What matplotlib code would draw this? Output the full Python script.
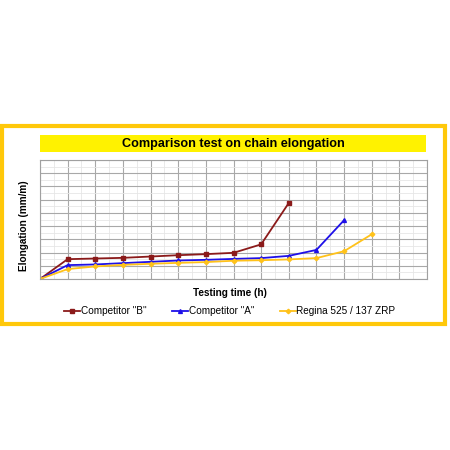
import matplotlib
matplotlib.use("Agg")
import matplotlib.pyplot as plt
from matplotlib.patches import Rectangle
from matplotlib.ticker import MultipleLocator

hours_b = [0, 1, 2, 3, 4, 5, 6, 7, 8, 9]
comp_b = [0, 1.5, 1.55, 1.6, 1.7, 1.8, 1.88, 1.98, 2.62, 5.75]
hours_a = [0, 1, 2, 3, 4, 5, 6, 7, 8, 9, 10, 11]
comp_a = [0, 1.05, 1.1, 1.2, 1.3, 1.4, 1.45, 1.52, 1.58, 1.75, 2.2, 4.45]
hours_r = [0, 1, 2, 3, 4, 5, 6, 7, 8, 9, 10, 11, 12]
regina = [0, 0.75, 0.95, 1.07, 1.15, 1.22, 1.28, 1.38, 1.42, 1.48, 1.58, 2.1, 3.38]

title = "Comparison test on chain elongation"
xlabel = "Testing time (h)"
ylabel = "Elongation (mm/m)"
labels = ['Competitor "B"', 'Competitor "A"', 'Regina 525 / 137 ZRP']

W = H = 450
fig = plt.figure(figsize=(4.5, 4.5), dpi=100)
fig.patch.set_facecolor("white")

def fx(px):
    return px / W

def fy(py):
    return 1 - py / H

# outer yellow frame
frame = Rectangle((fx(2), fy(324)), fx(445) - fx(2), fy(126) - fy(324),
                  transform=fig.transFigure, fill=False,
                  edgecolor="#FFC80A", linewidth=3.0, zorder=0)
fig.patches.append(frame)

# title box
tb = Rectangle((fx(40), fy(152)), fx(426) - fx(40), fy(135) - fy(152),
               transform=fig.transFigure, facecolor="#FFF200",
               edgecolor="none", zorder=0)
fig.patches.append(tb)
fig.text(fx(233), fy(143.5), title, ha="center", va="center",
         fontsize=9.1, fontweight="bold", family="Liberation Sans")

ax = fig.add_axes([fx(40), fy(279), fx(427) - fx(40), fy(160) - fy(279)])
ax.plot(hours_b, comp_b, color="#8B1A1A", marker="s", markersize=2.5, linewidth=1.3, label=labels[0])
ax.plot(hours_a, comp_a, color="#1E10E8", marker="^", markersize=2.8, linewidth=1.3, label=labels[1])
ax.plot(hours_r, regina, color="#FFC21A", marker="D", markersize=2.3, linewidth=1.3, label=labels[2])

ax.set_xlim(0, 14)
ax.set_ylim(0, 9)
ax.xaxis.set_major_locator(MultipleLocator(1))
ax.xaxis.set_minor_locator(MultipleLocator(0.5))
ax.yaxis.set_major_locator(MultipleLocator(1))
ax.yaxis.set_minor_locator(MultipleLocator(0.5))
ax.grid(which="major", color="#A8A8A8", linewidth=0.8)
ax.grid(which="minor", color="#E6E6E6", linewidth=0.6)
ax.set_axisbelow(True)
ax.tick_params(which="both", length=0, labelbottom=False, labelleft=False)
for s in ax.spines.values():
    s.set_color("#A0A0A0")
    s.set_linewidth(0.8)

fig.text(fx(230), fy(293), xlabel, ha="center", va="center",
         fontsize=7.2, fontweight="bold", family="Liberation Sans")
fig.text(fx(24), fy(226), ylabel, ha="center", va="center", rotation=90,
         fontsize=7.2, fontweight="bold", family="Liberation Sans")

fig.legend(loc="center", bbox_to_anchor=(fx(230), fy(311)), ncol=3,
           frameon=False, prop={"family": "Liberation Sans", "size": 7.2},
           handlelength=1.6, handletextpad=0.1, columnspacing=2.5)

fig.savefig("out.png", dpi=100, facecolor="white")
